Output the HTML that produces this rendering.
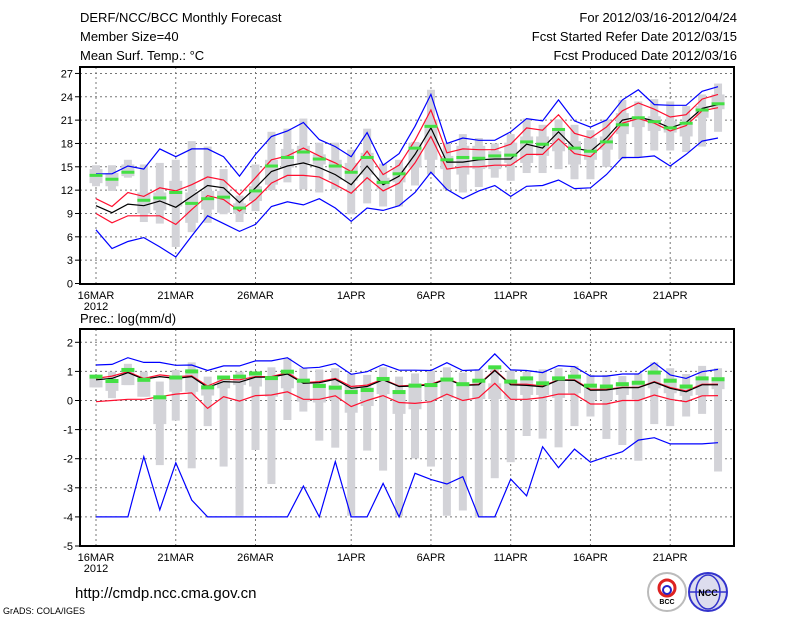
<!DOCTYPE html>
<html><head><meta charset="utf-8"><style>
html,body{margin:0;padding:0;background:#fff;width:800px;height:618px;overflow:hidden}
svg{display:block}
text{font-family:"Liberation Sans",sans-serif;fill:#000}
</style></head><body>
<svg id="chart" width="800" height="618" xmlns="http://www.w3.org/2000/svg">
<g font-size="13">
<text x="80" y="22">DERF/NCC/BCC Monthly Forecast</text>
<text x="80" y="41">Member Size=40</text>
<text x="80" y="60">Mean Surf. Temp.: °C</text>
<text x="737" y="22" text-anchor="end">For 2012/03/16-2012/04/24</text>
<text x="737" y="41" text-anchor="end">Fcst Started Refer Date 2012/03/15</text>
<text x="737" y="60" text-anchor="end">Fcst Produced Date 2012/03/16</text>
</g>
<text x="80" y="323" font-size="13">Prec.: log(mm/d)</text>
<text x="75" y="598" font-size="15">http://cmdp.ncc.cma.gov.cn</text>
<text x="3" y="614" font-size="9">GrADS: COLA/IGES</text>
<g>
<circle cx="667" cy="592" r="19" fill="#fff" stroke="#bbb" stroke-width="2"/>
<circle cx="667" cy="588" r="8" fill="none" stroke="#d22" stroke-width="3"/>
<circle cx="667" cy="590" r="4" fill="none" stroke="#22c" stroke-width="2"/>
<text x="667" y="604" font-size="7" text-anchor="middle" font-weight="bold">BCC</text>
</g>
<g>
<circle cx="708" cy="592" r="19" fill="#dde" stroke="#33c" stroke-width="2"/>
<ellipse cx="708" cy="592" rx="12" ry="17" fill="none" stroke="#33c" stroke-width="1.5"/>
<line x1="690" y1="592" x2="726" y2="592" stroke="#33c" stroke-width="1.5"/>
<text x="708" y="596" font-size="9" text-anchor="middle" fill="#22c" font-weight="bold">NCC</text>
</g>
<g id="topPanel"></g>
<g id="botPanel"></g>
</svg>
<script>
// ---- Temperature data ----
const days = 40;
const xTickLabels = ["16MAR","21MAR","26MAR","1APR","6APR","11APR","16APR","21APR"];
const xTickDays = [0,5,10,16,21,26,31,36];
const tTicks = [0,3,6,9,12,15,18,21,24,27];
const tObs = [13.9,13.4,14.3,10.7,11.0,11.7,10.3,10.9,11.1,9.7,11.9,15.1,16.2,16.9,16.0,15.1,14.3,16.2,13.0,14.1,17.4,20.2,15.9,16.2,16.1,16.4,16.5,18.2,17.9,19.8,17.4,17.0,18.2,20.4,21.3,20.8,20.0,20.6,22.3,23.1];
const tMean = [10.0,9.1,10.2,10.0,10.6,9.8,11.2,12.6,12.3,10.4,12.3,14.4,15.1,15.5,14.9,14.0,12.7,15.1,12.7,13.8,16.6,20.0,15.6,15.6,15.9,16.0,16.0,17.9,17.4,19.5,17.4,17.0,18.7,21.0,21.4,20.9,20.0,20.7,22.5,23.0];
const tRedUp = [10.9,9.9,11.7,11.2,12.3,11.9,12.7,13.7,13.3,11.4,13.6,15.9,16.4,17.4,16.4,15.5,14.4,17.0,14.0,15.2,18.4,22.3,16.8,17.3,17.2,17.2,17.9,20.0,19.7,21.7,19.3,18.7,20.1,22.2,23.2,22.4,21.4,21.7,23.7,24.3];
const tRedLo = [9.0,7.8,8.7,8.7,8.7,7.6,9.5,11.3,10.8,9.3,10.8,12.9,13.9,13.9,13.7,12.7,11.6,13.6,11.9,12.9,15.5,18.9,14.7,15.0,15.0,15.2,15.2,16.6,16.6,18.6,16.7,16.3,18.2,20.6,21.2,20.6,19.6,20.3,22.2,22.6];
const tBlueUp = [14.1,14.1,15.1,14.7,17.3,16.3,17.3,17.3,16.3,13.8,16.6,18.9,19.6,20.7,18.5,17.6,16.3,19.4,15.2,16.7,20.2,24.3,18.0,18.7,18.4,18.4,19.5,21.2,20.9,23.6,20.9,20.1,21.0,23.6,24.9,23.0,22.9,22.9,24.7,25.3];
const tBlueLo = [6.9,4.5,5.4,5.9,4.7,3.4,6.1,8.7,7.7,6.7,7.6,9.9,10.5,10.1,10.9,9.7,8.0,9.7,9.4,10.0,11.7,14.3,12.1,10.9,11.9,12.6,11.2,12.5,12.6,13.3,12.2,12.3,14.0,16.2,16.2,16.4,15.1,16.6,18.3,18.7];
const tMax = [15.2,15.2,15.9,15.3,15.5,15.9,18.3,17.6,14.7,11.3,15.3,19.5,19.9,21.2,18.1,18.1,17.2,19.9,15.4,15.9,18.2,24.9,18.1,19.2,18.7,18.0,19.2,21.2,20.4,21.1,20.4,19.7,21.1,23.6,23.4,23.7,23.4,22.8,24.3,25.7];
const tMin = [12.5,11.9,13.6,7.9,7.7,4.7,6.6,7.8,8.9,7.9,9.3,12.0,13.0,12.1,11.7,12.1,8.9,10.3,9.9,9.9,12.6,14.0,12.1,11.7,12.4,13.6,13.2,14.2,14.2,14.7,13.4,13.4,15.0,16.0,16.2,17.1,17.1,16.9,17.6,19.5];
const tQ3 = [14.7,14.2,15.3,11.7,11.7,13.2,11.7,11.9,11.9,10.3,12.5,15.9,17.3,17.7,16.6,15.9,15.5,16.8,13.6,14.9,18.1,21.1,16.4,17.7,17.7,17.0,18.1,18.9,18.9,19.8,18.3,18.7,18.9,21.9,21.3,21.5,20.9,20.7,22.8,24.3];
const tQ1 = [12.9,12.5,13.8,9.0,9.4,9.9,7.8,9.5,9.1,9.0,10.6,12.7,14.9,15.5,15.3,13.3,13.2,14.0,12.1,13.0,14.9,15.9,14.7,14.0,14.7,14.7,15.5,15.5,16.4,17.0,15.3,15.9,17.2,19.2,20.1,19.6,19.4,18.9,21.3,22.4];
// ---- Precipitation data ----
const pTicks = [-5,-4,-3,-2,-1,0,1,2];
const pObs = [0.82,0.67,1.05,0.71,0.11,0.79,1.0,0.45,0.79,0.82,0.93,0.77,0.99,0.68,0.50,0.44,0.29,0.36,0.74,0.29,0.51,0.53,0.72,0.56,0.68,1.14,0.65,0.76,0.59,0.76,0.82,0.51,0.48,0.56,0.61,0.96,0.68,0.48,0.76,0.73];
const pMean = [0.71,0.76,0.96,0.73,0.82,0.76,0.82,0.45,0.65,0.63,0.80,0.80,0.91,0.59,0.61,0.73,0.42,0.48,0.71,0.48,0.50,0.54,0.74,0.52,0.54,1.03,0.54,0.52,0.47,0.70,0.69,0.35,0.36,0.44,0.44,0.63,0.42,0.30,0.54,0.54];
const pRedUp = [0.76,0.84,0.99,0.76,0.88,0.82,0.85,0.50,0.73,0.71,0.82,0.82,0.96,0.61,0.65,0.76,0.48,0.53,0.73,0.50,0.53,0.56,0.76,0.53,0.56,1.05,0.56,0.56,0.50,0.71,0.71,0.38,0.38,0.45,0.45,0.65,0.45,0.33,0.56,0.56];
const pRedLo = [-0.04,0.0,0.04,0.04,0.13,0.22,0.26,-0.27,0.13,-0.02,0.17,0.19,0.30,0.04,0.04,0.16,-0.21,0.0,0.17,-0.07,-0.1,-0.04,0.22,0.0,0.10,0.59,0.04,0.04,0.10,0.22,0.22,-0.12,-0.12,0.0,0.0,0.19,0.04,-0.04,0.16,0.17];
const pBlueUp = [1.22,1.24,1.47,1.31,1.31,1.21,1.22,1.03,1.19,1.19,1.36,1.36,1.47,1.11,1.14,1.27,0.90,0.99,1.24,1.04,1.04,1.03,1.30,1.03,1.05,1.60,1.05,1.03,0.96,1.20,1.16,0.84,0.84,0.91,0.91,1.30,0.88,0.76,0.99,1.07];
const pBlueLo = [-4,-4,-4,-1.93,-3.76,-2.14,-3.42,-4,-4,-4,-4,-4,-4,-2.94,-4,-2.10,-4,-4,-2.85,-4,-2.5,-2.71,-2.87,-2.62,-4,-4,-2.70,-3.28,-1.59,-2.31,-1.67,-2.12,-1.93,-1.76,-1.36,-1.28,-1.49,-1.49,-1.49,-1.45];
const pMax = [0.88,0.99,1.26,0.99,0.65,1.05,1.31,0.82,0.82,0.99,0.93,1.14,1.45,1.11,1.07,1.11,0.93,0.88,1.14,0.82,0.93,1.03,1.14,0.96,1.07,1.07,1.03,0.99,1.07,1.11,1.19,0.88,0.88,0.84,0.93,1.31,1.11,0.91,1.19,1.11];
const pMin = [0.45,0.08,0.53,0.13,-2.22,-0.69,-2.33,-0.88,-2.27,-3.96,-1.70,-2.87,-0.67,-0.38,-1.38,-1.62,-3.96,-1.72,-2.41,-3.96,-1.99,-2.27,-3.96,-3.78,-4.01,-2.67,-2.12,-1.22,-1.31,-1.61,-0.88,-0.55,-1.32,-1.53,-2.07,-0.81,-0.88,-0.55,-0.46,-2.44];
const pQ3 = [0.88,0.71,1.11,0.76,0.13,0.82,0.93,0.53,0.76,0.76,0.88,0.84,1.03,0.76,0.59,0.53,0.53,0.45,0.76,0.36,0.59,0.53,0.76,0.59,0.71,0.59,0.59,0.71,0.59,0.71,0.82,0.53,0.48,0.59,0.65,0.99,0.76,0.48,0.82,0.80];
const pQ1 = [0.45,0.33,0.53,0.13,-0.81,0.30,0.30,0.17,0.42,0.53,0.48,0.13,0.42,-0.04,-0.07,0.02,-0.42,-0.19,0.22,-0.46,-0.30,0.02,0.08,0.02,0.05,0.05,0.06,0.19,0.19,0.09,0.25,0.02,0.02,0.19,0.04,0.42,0.25,0.16,0.19,0.39];

const NS = "http://www.w3.org/2000/svg";
const LX = 80, RX = 734;
const xDay = d => 96 + d * 15.95;
function mk(parent, tag, attrs) {
  const e = document.createElementNS(NS, tag);
  for (const k in attrs) e.setAttribute(k, attrs[k]);
  parent.appendChild(e);
  return e;
}
function panel(g, yTop, yBot, yv, ticks, d) {
  ticks.forEach(t => {
    const y = yv(t);
    if (y > yTop + 2 && y < yBot - 2) {
      const gl = mk(g, "line", {x1: LX, x2: RX, y1: y, y2: y, stroke: "#777", "stroke-dasharray": "2,3", "stroke-width": 1});
      
      
    }
    const tk = mk(g, "line", {x1: LX - 5, x2: LX, y1: y, y2: y, stroke: "#000"});
    
    
    const tl = mk(g, "text", {x: LX - 7, y: y + 4, "font-size": 11, "text-anchor": "end"});
    tl.textContent = t;
    
    
  });
  xTickDays.forEach((dd, i) => {
    const x = xDay(dd);
    const gl = mk(g, "line", {x1: x, x2: x, y1: yTop, y2: yBot, stroke: "#777", "stroke-dasharray": "2,3"});
    
    
    const tl = mk(g, "text", {x: x, y: yBot + 15, "font-size": 11, "text-anchor": "middle"});
    tl.textContent = xTickLabels[i];
    
    
  });
  const yr = mk(g, "text", {x: xDay(0), y: yBot + 26, "font-size": 11, "text-anchor": "middle"});
  yr.textContent = "2012";
  
  
  for (let i = 0; i < days; i++) {
    const x = xDay(i);
    const b1 = mk(g, "rect", {x: x - 4, y: yv(d.max[i]), width: 8, height: Math.max(1, yv(d.min[i]) - yv(d.max[i])), fill: "#d3d3d8"});
    
    
    const b2 = mk(g, "rect", {x: x - 6.5, y: yv(d.q3[i]), width: 13, height: Math.max(1, yv(d.q1[i]) - yv(d.q3[i])), fill: "#d3d3d8"});
    
    
  }
  const line = (arr, col, name) => {
    const p = mk(g, "polyline", {points: arr.map((v, i) => xDay(i).toFixed(1) + "," + yv(v).toFixed(1)).join(" "), fill: "none", stroke: col, "stroke-width": 1.2});
    
    
  };
  line(d.blueUp, "#0000ff", "upper-bound-line");
  line(d.blueLo, "#0000ff", "lower-bound-line");
  line(d.redUp, "#ff1030", "upper-spread-line");
  line(d.redLo, "#ff1030", "lower-spread-line");
  line(d.mean, "#000", "ensemble-mean-line");
  for (let i = 0; i < days; i++) {
    const o = mk(g, "rect", {x: xDay(i) - 6.5, y: yv(d.obs[i]) - d.oh / 2, width: 13, height: d.oh, fill: "#44e044"});
    
    
  }
  const fr = mk(g, "rect", {x: LX, y: yTop, width: RX - LX, height: yBot - yTop, fill: "none", stroke: "#000", "stroke-width": 2});
  
  
}
const topG = document.getElementById("topPanel");


panel(topG, 67, 284, v => 283.5 - v * 7.78, tTicks,
  {obs: tObs, mean: tMean, redUp: tRedUp, redLo: tRedLo, blueUp: tBlueUp, blueLo: tBlueLo, max: tMax, min: tMin, q3: tQ3, q1: tQ1, oh: 3});
const botG = document.getElementById("botPanel");


panel(botG, 329, 546, v => 342.3 + (2 - v) * 29.1, pTicks,
  {obs: pObs, mean: pMean, redUp: pRedUp, redLo: pRedLo, blueUp: pBlueUp, blueLo: pBlueLo, max: pMax, min: pMin, q3: pQ3, q1: pQ1, oh: 4});
</script>
</body></html>
